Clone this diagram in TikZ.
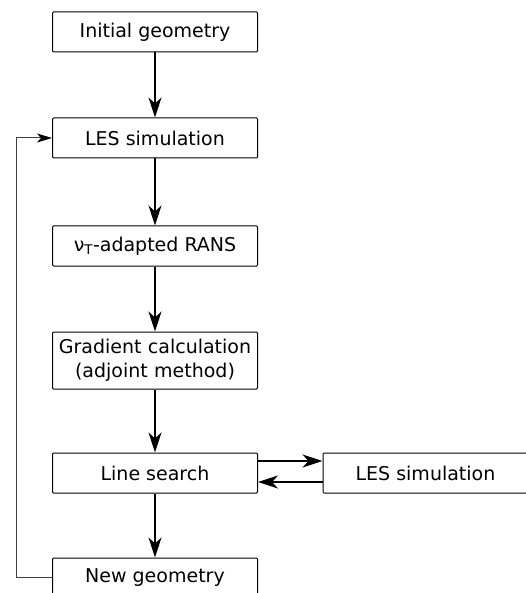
\documentclass[tikz,border=0pt]{standalone}
\usepackage{fontspec}
\setmainfont{DejaVu Sans}
\usetikzlibrary{arrows.meta}
\begin{document}
\begin{tikzpicture}[x=1pt,y=-1pt,
  box/.style={draw,line width=1pt,rounded corners=1pt,minimum width=205pt,minimum height=40pt,inner sep=0pt,font=\fontsize{19}{23.5}\selectfont,align=center},
  flow/.style={line width=2pt,-{Stealth[length=20pt,width=13pt,inset=6pt]}},
  back/.style={line width=1pt,draw=black!75,-{Stealth[length=15pt,width=9pt,inset=4pt,fill=black,color=black]}}]
\useasboundingbox (0,0) rectangle (525,593);
\node[box] (init) at (155,32) {Initial geometry};
\node[box] (les) at (155,138) {LES simulation};
\node[box] (rans) at (155,246) {ν\textsubscript{T}-adapted RANS};
\node[box,minimum height=57pt,text width=205pt] (grad) at (155,360.5) {Gradient calculation\\(adjoint method)};
\node[box] (ls) at (155,473) {Line search};
\node[box] (les2) at (425.5,473) {LES simulation};
\node[box] (new) at (155,578) {New geometry};
\draw[flow] (init) -- (les);
\draw[flow] (les) -- (rans);
\draw[flow] (rans) -- (grad);
\draw[flow] (grad) -- (ls);
\draw[flow] (ls) -- (new);
\draw[flow] (ls.east |- 0,461) -- (les2.west |- 0,461);
\draw[flow] (les2.west |- 0,482) -- (ls.east |- 0,482);
\coordinate (c1) at (16.5,577.5);
\coordinate (c2) at (16.5,138);
\draw[back] (new.west |- c1) -- (c1) -- (c2) -- (les.west);
\end{tikzpicture}
\end{document}
